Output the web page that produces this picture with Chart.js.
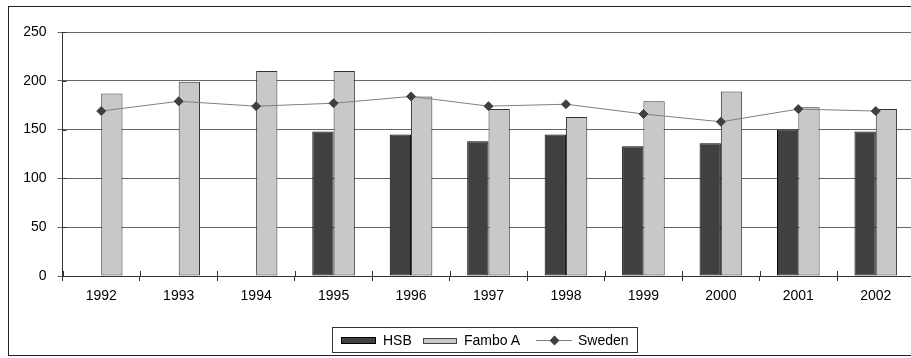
<!DOCTYPE html>
<html lang="en">
<head>
    <meta charset="UTF-8">
    <title>Chart</title>
    <style>
        body { margin: 0; overflow: hidden; background: #fff; font-family: 'Liberation Sans', Arial, sans-serif; }
        #frame { position: absolute; left: 8px; top: 6px; width: 940px; height: 350px; border: 1px solid #222; box-sizing: border-box; }
        #wrap { position: absolute; left: 0; top: 0; width: 920px; height: 358px; }
        #legend { position: absolute; left: 332px; top: 327px; width: 306px; height: 26px; border: 1px solid #333; box-sizing: border-box; font-size: 14px; color: #000; }
        #legend span { position: absolute; }
        .txt { top: 4px; line-height: 16px; }
    </style>
</head>
<body>
    <div id="frame"></div>
    <div id="wrap">
        <canvas id="myChart" width="920" height="358"></canvas>
    </div>
    <div id="legend">
        <span style="left:8px; top:9px; width:35px; height:7px; background:#404040; border:1px solid #000; box-sizing:border-box"></span>
        <span class="txt" style="left:50px">HSB</span>
        <span style="left:90px; top:10px; width:34px; height:6px; background:#c8c8c8; border:1px solid #444; box-sizing:border-box"></span>
        <span class="txt" style="left:131px">Fambo A</span>
        <span style="left:203px; top:12px; width:36px; height:1px; background:#808080"></span>
        <span style="left:218px; top:9px; width:7px; height:7px; background:#404040; transform:rotate(45deg)"></span>
        <span class="txt" style="left:245px">Sweden</span>
    </div>

    <script src="https://cdn.jsdelivr.net/npm/chart.js"></script>

    <script>
        const years = ['1992', '1993', '1994', '1995', '1996', '1997', '1998', '1999', '2000', '2001', '2002']
        const hsb = [null, null, null, 148, 145, 138, 145, 133, 136, 150, 148]
        const famboA = [187, 199, 210, 210, 184, 171, 163, 179, 189, 173, 171]
        const sweden = [169, 179, 174, 177, 184, 174, 176, 166, 158, 171, 169]

        const font = { family: "'Liberation Sans', Arial, sans-serif", size: 14 }

        // tick marks crossing the axes, like the original
        const crossTicks = {
            id: 'crossTicks',
            afterDatasetsDraw(chart) {
                const { ctx, scales: { x, y } } = chart
                ctx.save()
                ctx.strokeStyle = '#333'
                ctx.lineWidth = 1
                ctx.beginPath()
                for (let i = 0; i <= years.length; i++) {
                    const px = Math.round(x.left + i * (x.right - x.left) / years.length) + 0.5
                    ctx.moveTo(px, y.bottom - 5)
                    ctx.lineTo(px, y.bottom)
                }
                y.ticks.forEach(t => {
                    const py = Math.round(y.getPixelForValue(t.value)) + 0.5
                    ctx.moveTo(x.left, py)
                    ctx.lineTo(x.left + 4, py)
                })
                ctx.stroke()
                ctx.restore()
            }
        }

        const ctx = document.getElementById('myChart')
        new Chart(ctx, {
            data: {
                labels: years,
                datasets: [
                    {
                        type: 'line',
                        label: 'Sweden',
                        data: sweden,
                        order: 0,
                        borderColor: '#808080',
                        borderWidth: 1,
                        tension: 0,
                        pointStyle: 'rectRot',
                        pointRadius: 4.5,
                        pointBackgroundColor: '#404040',
                        pointBorderColor: '#404040',
                        pointBorderWidth: 1
                    },
                    {
                        type: 'bar',
                        label: 'HSB',
                        data: hsb,
                        order: 1,
                        backgroundColor: '#404040',
                        borderColor: '#000',
                        borderWidth: 1,
                        borderSkipped: false,
                        categoryPercentage: 0.55,
                        barPercentage: 1
                    },
                    {
                        type: 'bar',
                        label: 'Fambo A',
                        data: famboA,
                        order: 1,
                        backgroundColor: '#c8c8c8',
                        borderColor: '#333',
                        borderWidth: 1,
                        borderSkipped: false,
                        categoryPercentage: 0.55,
                        barPercentage: 1
                    }
                ]
            },
            options: {
                responsive: false,
                animation: false,
                devicePixelRatio: 1,
                layout: { padding: { left: 0, top: 32, right: 5, bottom: 0 } },
                plugins: {
                    legend: { display: false },
                    tooltip: { enabled: false }
                },
                scales: {
                    x: {
                        offset: true,
                        grid: { drawOnChartArea: false, drawTicks: true, tickLength: 5, offset: true, color: '#333' },
                        border: { color: '#333' },
                        ticks: { color: '#000', font, padding: 7, maxRotation: 0 },
                        afterFit: scale => { scale.height = 82 }
                    },
                    y: {
                        min: 0,
                        max: 250,
                        ticks: { stepSize: 50, color: '#000', font, padding: 11 },
                        grid: { color: '#666', tickLength: 5 },
                        border: { color: '#333' },
                        afterFit: scale => { scale.width = 62.5 }
                    }
                }
            },
            plugins: [crossTicks]
        })
    </script>
</body>
</html>
